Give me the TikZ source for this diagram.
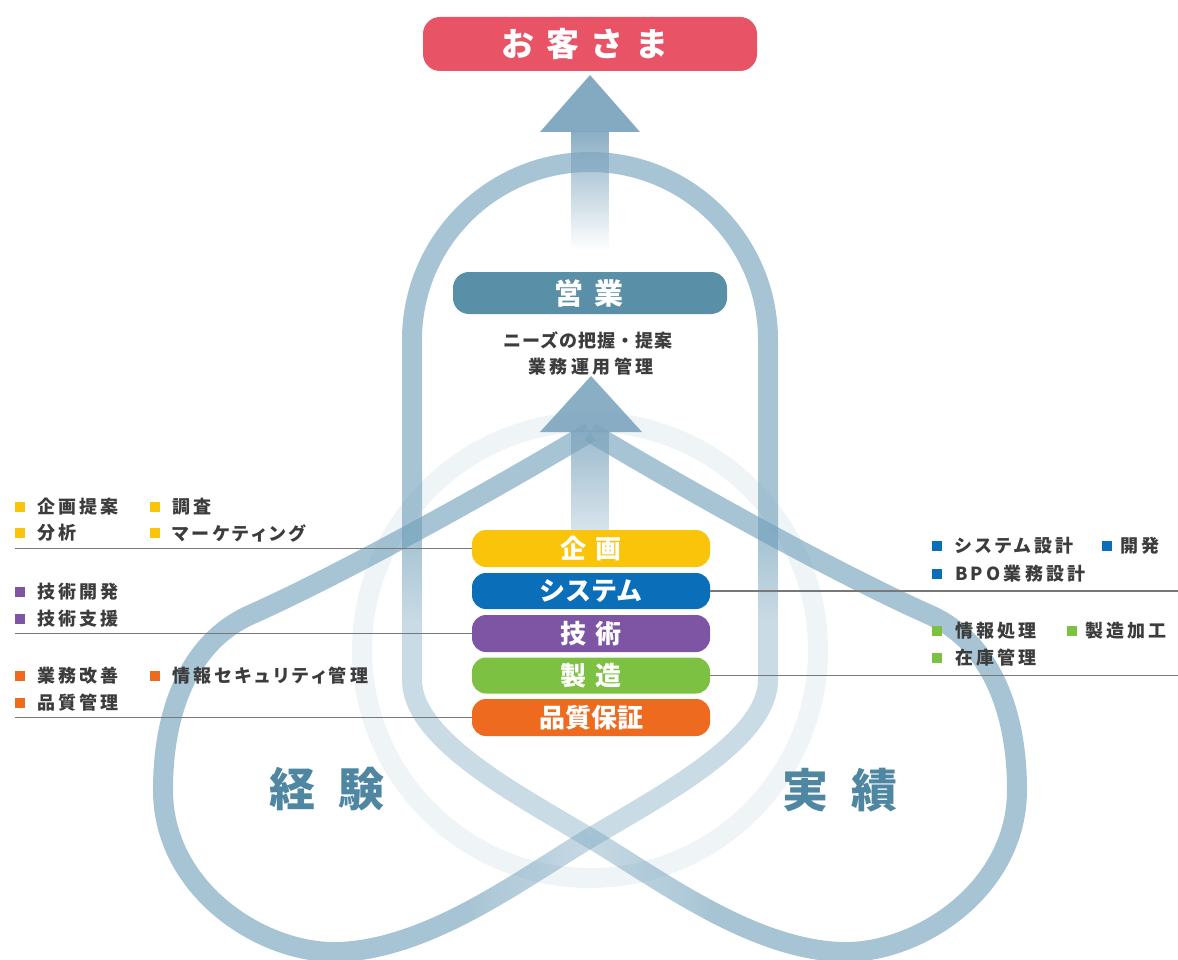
\documentclass[tikz,border=0pt]{standalone}
\usepackage{fontspec}
\setmainfont{Noto Sans CJK JP}
\usetikzlibrary{fadings}
\definecolor{bandc}{RGB}{108,157,184}
\definecolor{arrc}{RGB}{125,165,190}
\definecolor{custc}{RGB}{232,84,102}
\definecolor{eigyoc}{RGB}{90,143,168}
\definecolor{yel}{RGB}{250,196,10}
\definecolor{blu}{RGB}{10,110,184}
\definecolor{pur}{RGB}{126,85,165}
\definecolor{grn}{RGB}{125,193,66}
\definecolor{org}{RGB}{238,106,31}
\definecolor{txt}{RGB}{60,60,60}
\definecolor{bigt}{RGB}{79,135,162}
\definecolor{leadc}{RGB}{120,120,120}
\tikzfading[name=fadeall, top color=transparent!0, bottom color=transparent!100]
\tikzfading[name=fadepart, top color=transparent!10, bottom color=transparent!65]
\tikzfading[name=fadeTB, top color=transparent!0, bottom color=transparent!38]
\tikzfading[name=fadeLR, left color=transparent!0, right color=transparent!38]
\tikzfading[name=fadeRL, left color=transparent!38, right color=transparent!0]
\tikzset{
  band/.style={draw=bandc, draw opacity=0.6, line width=20pt, line cap=butt},
  lightband/.style={draw=bandc, draw opacity=0.37, line width=20pt, line cap=butt},
  ghost/.style={draw=bandc, draw opacity=0.11, line width=20pt},
  pill/.style={rounded corners=14pt, minimum width=238pt, inner sep=0pt, text=white},
  pilltxt/.style={font=\bfseries\fontsize{26}{26}\selectfont\addfontfeature{LetterSpace=#1}},
  lbl/.style={anchor=west, inner sep=0pt, text=txt, font=\bfseries\fontsize{18}{18}\selectfont\addfontfeature{LetterSpace=18,RawFeature=+palt}},
  sq/.style={minimum size=10pt, inner sep=0pt},
  leader/.style={draw=leadc, line width=1.1pt},
  big/.style={text=bigt, inner sep=0pt, font=\bfseries\fontsize{46}{46}\selectfont\addfontfeature{LetterSpace=50}}
}
\begin{document}
\begin{tikzpicture}[x=1pt,y=-1pt]
\useasboundingbox (0,0) rectangle (1178,960);
% faint ring
\draw[ghost] (590,650) circle[radius=228pt];
% trefoil band in pieces
\draw[band] (590,432) .. controls (490,492) and (340,575) .. (250,615)
  .. controls (190,642) and (163,710) .. (163,790)
  .. controls (163,890) and (263,955) .. (340,952)
  .. controls (385,950) and (430,932) .. (472.5,909.25);
\draw[band, path fading=fadeLR] (472.5,909.25) .. controls (515,886.5) and (555,859) .. (590,838);
\draw[lightband] (590,838) .. controls (660,796) and (768,740) .. (768,680) -- (768,620);
\fill[bandc, fill opacity=0.6, path fading=fadeTB] (758,540) rectangle (778,620);
\draw[band] (768,540) -- (768,340) .. controls (768,241.7) and (688.3,162) .. (590,162)
  .. controls (491.7,162) and (412,241.7) .. (412,340) -- (412,540);
\fill[bandc, fill opacity=0.6, path fading=fadeTB] (402,540) rectangle (422,620);
\draw[lightband] (412,620) -- (412,680) .. controls (412,740) and (520,796) .. (590,838);
\draw[band, path fading=fadeRL] (590,838) .. controls (625,859) and (665,886.5) .. (707.5,909.25);
\draw[band] (707.5,909.25) .. controls (750,932) and (795,950) .. (840,952)
  .. controls (917,955) and (1017,890) .. (1017,790)
  .. controls (1017,710) and (990,642) .. (930,615)
  .. controls (840,575) and (690,492) .. (590,432);
% arrows
\fill[arrc, path fading=fadeall, fill opacity=0.9] (571,131) rectangle (609,250);
\fill[arrc, fill opacity=0.95] (540,132) -- (590,75) -- (640,132) -- cycle;
\fill[arrc, path fading=fadepart, fill opacity=0.85] (571,431) rectangle (609,531);
\fill[arrc, fill opacity=0.9] (540,432) -- (591,376) -- (642,432) -- cycle;
% top boxes
\node[rounded corners=17pt, minimum width=334pt, minimum height=54pt, inner sep=0pt, fill=custc, text=white] (cust) at (590,44) {};
\node[text=white, inner sep=0pt, font=\bfseries\fontsize{33}{33}\selectfont\addfontfeature{LetterSpace=35}] (custt) at (585,44) {お客さま};
\node[rounded corners=16pt, minimum width=274pt, minimum height=42pt, inner sep=0pt, fill=eigyoc, text=white] (eigyo) at (590,293) {};
\node[text=white, inner sep=0pt, font=\bfseries\fontsize{29}{29}\selectfont\addfontfeature{LetterSpace=40}] (eigyot) at (589,293) {営業};
\node[text=txt, inner sep=0pt, font=\bfseries\fontsize{18}{18}\selectfont\addfontfeature{LetterSpace=6}] (d1) at (588,340) {ニーズの把握・提案};
\node[text=txt, inner sep=0pt, font=\bfseries\fontsize{18}{18}\selectfont\addfontfeature{LetterSpace=20}] (d2) at (591,367) {業務運用管理};
% centre pills
\node[pill, fill=yel, minimum height=37pt, pilltxt=38] (kikaku) at (591,548.5) {企画};
\node[pill, fill=blu, minimum height=36pt, pilltxt=0] (system) at (591,591) {システム};
\node[pill, fill=pur, minimum height=37pt, pilltxt=38] (gijutsu) at (591,633.5) {技術};
\node[pill, fill=grn, minimum height=36pt, pilltxt=38] (seizo) at (591,675.5) {製造};
\node[pill, fill=org, minimum height=37pt, pilltxt=0] (hinshitsu) at (591,717.5) {品質保証};
% big words
\node[big] (keiken) at (327,789) {経験};
\node[big] (jisseki) at (840,790) {実績};
% left labels
\node[sq, fill=yel] (sa1) at (20,507) {}; \node[lbl] (ta1) at (37,507) {企画提案};
\node[sq, fill=yel] (sa2) at (155,507) {}; \node[lbl] (ta2) at (172,507) {調査};
\node[sq, fill=yel] (sa3) at (20,533) {}; \node[lbl] (ta3) at (37,533) {分析};
\node[sq, fill=yel] (sa4) at (155,533) {}; \node[lbl] (ta4) at (172,533) {マーケティング};
\coordinate (la) at (15,548.5);
\draw[leader] (la) -- (kikaku.west);
\node[sq, fill=pur] (sb1) at (20,592) {}; \node[lbl] (tb1) at (37,592) {技術開発};
\node[sq, fill=pur] (sb2) at (20,619) {}; \node[lbl] (tb2) at (37,619) {技術支援};
\coordinate (lb) at (15,633.5);
\draw[leader] (lb) -- (gijutsu.west);
\node[sq, fill=org] (sc1) at (20,676) {}; \node[lbl] (tc1) at (37,676) {業務改善};
\node[sq, fill=org] (sc2) at (155,676) {}; \node[lbl] (tc2) at (172,676) {情報セキュリティ管理};
\node[sq, fill=org] (sc3) at (20,703) {}; \node[lbl] (tc3) at (37,703) {品質管理};
\coordinate (lc) at (15,717.5);
\draw[leader] (lc) -- (hinshitsu.west);
% right labels
\node[sq, fill=blu] (sd1) at (937,546) {}; \node[lbl] (td1) at (955,546) {システム設計};
\node[sq, fill=blu] (sd2) at (1107,546) {}; \node[lbl] (td2) at (1120,546) {開発};
\node[sq, fill=blu] (sd3) at (937,574) {}; \node[lbl] (td3) at (955,574) {BPO業務設計};
\coordinate (rd) at (1178,591);
\draw[leader] (system.east) -- (rd);
\node[sq, fill=grn] (se1) at (937,631) {}; \node[lbl] (te1) at (955,631) {情報処理};
\node[sq, fill=grn] (se2) at (1072,631) {}; \node[lbl] (te2) at (1085,631) {製造加工};
\node[sq, fill=grn] (se3) at (937,658) {}; \node[lbl] (te3) at (955,658) {在庫管理};
\coordinate (re) at (1178,675.5);
\draw[leader] (seizo.east) -- (re);
\end{tikzpicture}
\end{document}
